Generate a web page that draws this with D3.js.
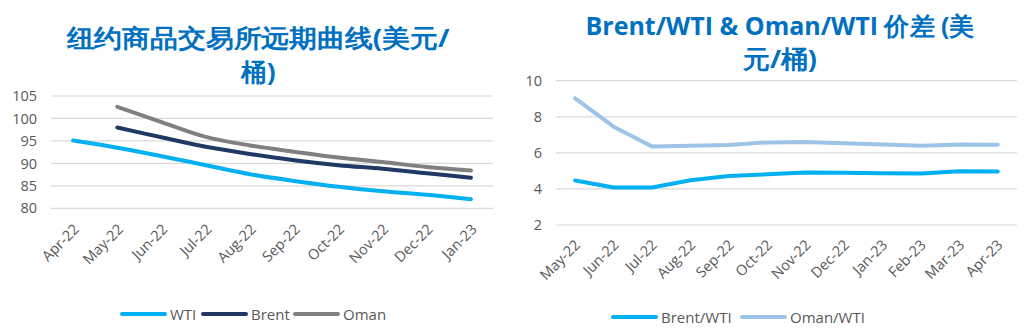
<!DOCTYPE html>
<html>
<head>
<meta charset="utf-8">
<script src="https://cdn.jsdelivr.net/npm/d3@7"></script>
<style>
  html, body { margin: 0; padding: 0; background: #fff; }
  svg { display: block; }
  text { font-family: "Open Sans", "Noto Sans", sans-serif; }
</style>
</head>
<body>
<svg id="chart" width="1031" height="332"></svg>
<script>
// ---------- Data ----------
const leftCategories = ["Apr-22","May-22","Jun-22","Jul-22","Aug-22","Sep-22","Oct-22","Nov-22","Dec-22","Jan-23"];
const wtiCurve   = [95.1, 93.5, 91.6, 89.6, 87.6, 86.1, 84.8, 83.8, 83.0, 82.0];
const brentCurve = [null, 98.0, 95.8, 93.7, 92.1, 90.7, 89.6, 88.8, 87.8, 86.8];
const omanCurve  = [null, 102.6, 99.2, 95.9, 94.0, 92.6, 91.3, 90.3, 89.2, 88.4];
const leftTicks  = [80, 85, 90, 95, 100, 105];

const rightCategories = ["May-22","Jun-22","Jul-22","Aug-22","Sep-22","Oct-22","Nov-22","Dec-22","Jan-23","Feb-23","Mar-23","Apr-23"];
const brentWtiSpread = [4.47, 4.08, 4.08, 4.48, 4.72, 4.81, 4.91, 4.89, 4.87, 4.85, 4.98, 4.97];
const omanWtiSpread  = [9.02, 7.45, 6.35, 6.40, 6.43, 6.58, 6.60, 6.53, 6.46, 6.40, 6.46, 6.45];
const rightTicks = [2, 4, 6, 8, 10];

const leftTitle  = ["纽约商品交易所远期曲线(美元/", "桶)"];
const rightTitle = ["Brent/WTI & Oman/WTI 价差 (美", "元/桶)"];

// ---------- Styles ----------
const C = {
  title: "#0070C0",
  tick: "#595959",
  grid: "#D9D9D9",
  wti: "#00B0F0",
  brent: "#203864",
  oman: "#808080",
  bw: "#00B0F0",
  ow: "#9DC3E6"
};

const svg = d3.select("#chart");

function drawTitle(lines, cx, baselines, lengths, size) {
  const t = svg.append("text")
    .attr("text-anchor", "middle")
    .attr("font-family", "'Noto Sans CJK SC', 'Noto Sans', sans-serif")
    .attr("font-weight", "bold")
    .attr("font-size", size)
    .attr("fill", C.title);
  lines.forEach((s, i) => {
    t.append("tspan")
      .attr("x", cx).attr("y", baselines[i])
      .attr("textLength", lengths[i])
      .attr("lengthAdjust", "spacingAndGlyphs")
      .text(s);
  });
}

function drawPanel(opts) {
  const x = d3.scaleBand().domain(opts.categories).range(opts.xRange);
  const y = d3.scaleLinear().domain(opts.yDomain).range(opts.yRange);
  const g = svg.append("g");

  // gridlines
  g.append("g").selectAll("line").data(opts.ticks).join("line")
    .attr("x1", opts.xRange[0]).attr("x2", opts.xRange[1])
    .attr("y1", d => y(d)).attr("y2", d => y(d))
    .attr("stroke", C.grid).attr("stroke-width", 1.2);

  // y axis labels
  const yAxis = d3.axisLeft(y).tickValues(opts.ticks).tickSize(0).tickPadding(14);
  const ya = g.append("g").attr("transform", `translate(${opts.xRange[0]},0)`).call(yAxis);
  ya.select(".domain").remove();
  ya.selectAll("text").attr("fill", C.tick).attr("font-size", 14.5)
    .attr("font-family", "'Open Sans', sans-serif");

  // x axis labels rotated
  const xAxis = d3.axisBottom(x).tickSize(0).tickPadding(0);
  const xa = g.append("g").attr("transform", `translate(0,${opts.yRange[0]})`).call(xAxis);
  xa.select(".domain").remove();
  xa.selectAll("text")
    .attr("fill", C.tick).attr("font-size", 14.5)
    .attr("font-family", "'Open Sans', sans-serif")
    .attr("text-anchor", "end")
    .attr("dy", null).attr("y", 0)
    .attr("transform", `translate(${opts.labelDx},${opts.labelOffset}) rotate(-45)`)
    .attr("dominant-baseline", "central");

  // lines
  opts.series.forEach(s => {
    const line = d3.line()
      .defined(d => d != null)
      .x((d, i) => x(opts.categories[i]) + x.bandwidth() / 2)
      .y(d => y(d))
      .curve(opts.curve);
    g.append("path")
      .datum(s.values)
      .attr("d", line)
      .attr("fill", "none")
      .attr("stroke", s.color)
      .attr("stroke-width", s.width)
      .attr("stroke-linecap", "round")
      .attr("stroke-linejoin", "round");
  });

  // legend
  opts.legend.forEach(l => {
    g.append("line")
      .attr("x1", l.x).attr("x2", l.x + 43)
      .attr("y1", opts.legendY).attr("y2", opts.legendY)
      .attr("stroke", l.color).attr("stroke-width", 4).attr("stroke-linecap", "round");
    g.append("text")
      .attr("x", l.x + 48).attr("y", opts.legendY)
      .attr("dominant-baseline", "central")
      .attr("font-size", 15).attr("fill", C.tick)
      .attr("font-family", "'Open Sans', sans-serif")
      .text(l.name);
  });
}

// ---------- Left chart ----------
drawTitle(leftTitle, 258, [47, 81], [383, 35], 25);
drawPanel({
  categories: leftCategories,
  xRange: [51, 493],
  yDomain: [80, 105],
  yRange: [208.3, 96],
  ticks: leftTicks,
  labelDx: 3,
  labelOffset: 18,
  curve: d3.curveCatmullRom.alpha(0.5),
  series: [
    { values: wtiCurve, color: C.wti, width: 4 },
    { values: brentCurve, color: C.brent, width: 4 },
    { values: omanCurve, color: C.oman, width: 4 }
  ],
  legendY: 314,
  legend: [
    { name: "WTI", color: C.wti, x: 122 },
    { name: "Brent", color: C.brent, x: 203 },
    { name: "Oman", color: C.oman, x: 295 }
  ]
});

// ---------- Right chart ----------
drawTitle(rightTitle, 780, [35, 68], [389, 74], 25);
drawPanel({
  categories: rightCategories,
  xRange: [556, 1017],
  yDomain: [2, 10],
  yRange: [225, 80.7],
  ticks: rightTicks,
  labelDx: 2,
  labelOffset: 17,
  curve: d3.curveLinear,
  series: [
    { values: brentWtiSpread, color: C.bw, width: 4 },
    { values: omanWtiSpread, color: C.ow, width: 4 }
  ],
  legendY: 317,
  legend: [
    { name: "Brent/WTI", color: C.bw, x: 613 },
    { name: "Oman/WTI", color: C.ow, x: 742 }
  ]
});
</script>
</body>
</html>
